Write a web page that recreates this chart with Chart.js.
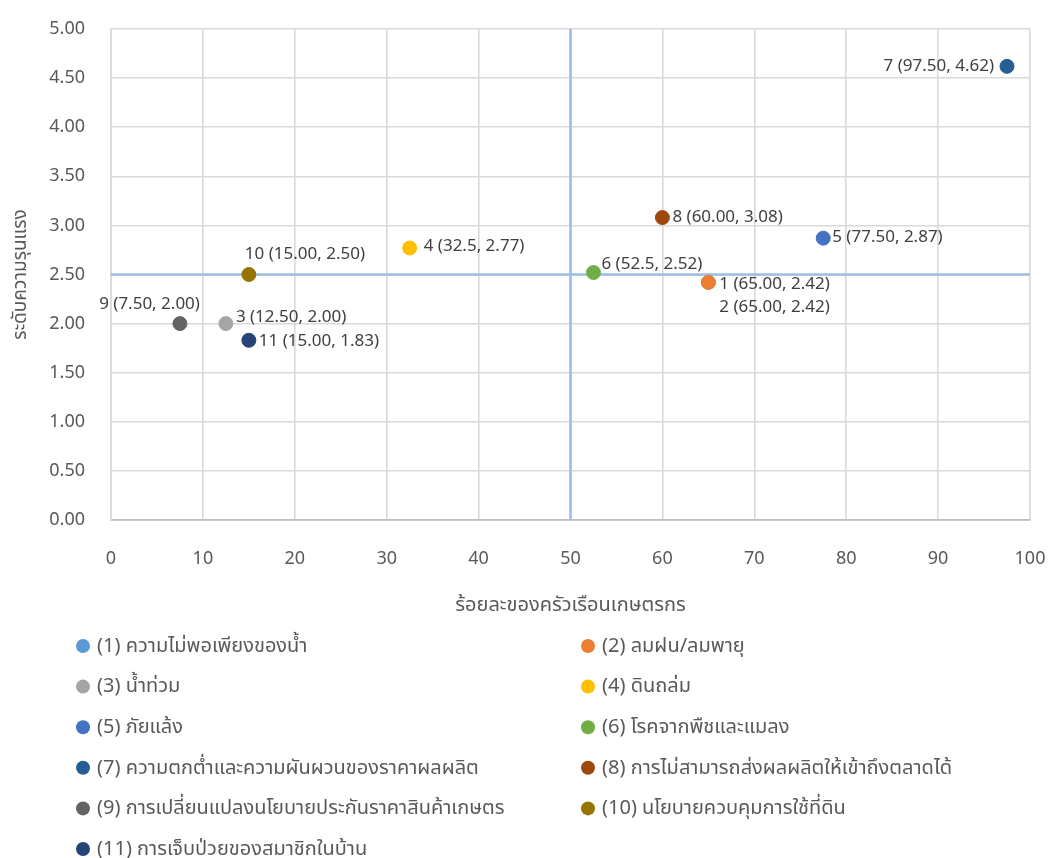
<!DOCTYPE html>
<html lang="th">
<head>
<meta charset="utf-8">
<title>ระดับความรุนแรงและร้อยละของครัวเรือนเกษตรกร</title>
<script src="https://cdn.jsdelivr.net/npm/chart.js@4/dist/chart.umd.min.js"></script>
<style>
  html, body { margin: 0; padding: 0; background: #ffffff; }
  #wrap { width: 1048px; height: 858px; }
</style>
</head>
<body>
<div id="wrap"><canvas id="chart" width="1048" height="858"></canvas></div>
<script>
// Risk factors: share of farm households (x) against severity level (y)
const riskNumbers = [1, 2, 3, 4, 5, 6, 7, 8, 9, 10, 11];
const riskNames = [
  'ความไม่พอเพียงของน้ำ',
  'ลมฝน/ลมพายุ',
  'น้ำท่วม',
  'ดินถล่ม',
  'ภัยแล้ง',
  'โรคจากพืชและแมลง',
  'ความตกต่ำและความผันผวนของราคาผลผลิต',
  'การไม่สามารถส่งผลผลิตให้เข้าถึงตลาดได้',
  'การเปลี่ยนแปลงนโยบายประกันราคาสินค้าเกษตร',
  'นโยบายควบคุมการใช้ที่ดิน',
  'การเจ็บป่วยของสมาชิกในบ้าน'
];
const householdPercent = [65.0, 65.0, 12.5, 32.5, 77.5, 52.5, 97.5, 60.0, 7.5, 15.0, 15.0];
const severityLevel    = [2.42, 2.42, 2.00, 2.77, 2.87, 2.52, 4.62, 3.08, 2.00, 2.50, 1.83];
const percentDecimals  = [2, 2, 2, 1, 2, 1, 2, 2, 2, 2, 2];
const xTickValues = [0, 10, 20, 30, 40, 50, 60, 70, 80, 90, 100];
const yTickValues = [0, 0.5, 1, 1.5, 2, 2.5, 3, 3.5, 4, 4.5, 5];
const xAxisTitle = 'ร้อยละของครัวเรือนเกษตรกร';
const yAxisTitle = 'ระดับความรุนแรง';
const percentDivider = 50;
const severityDivider = 2.5;

const pointColors = ['#5b9bd5', '#ed7d31', '#a5a5a5', '#ffc000', '#4472c4', '#70ad47',
                     '#255e91', '#9e480e', '#636363', '#997300', '#264478'];

// Where each value label sits relative to its marker
const labelPlacement = [
  { align: 'left',  dx: 11, dy: 2 },
  { align: 'left',  dx: 11, dy: 25 },
  { align: 'left',  dx: 10, dy: -6 },
  { align: 'left',  dx: 14, dy: -2 },
  { align: 'left',  dx: 9,  dy: -1 },
  { align: 'left',  dx: 8,  dy: -8 },
  { align: 'right', dx: -13, dy: 0 },
  { align: 'left',  dx: 10, dy: 0 },
  { align: 'right', dx: 20, dy: -19 },
  { align: 'left',  dx: -4, dy: -20 },
  { align: 'left',  dx: 10, dy: 1 }
];

const FONT = "'Noto Sans', 'Noto Sans Thai', sans-serif";

const datasets = riskNumbers.map((n, i) => ({
  label: '(' + n + ') ' + riskNames[i],
  data: [{ x: householdPercent[i], y: severityLevel[i] }],
  backgroundColor: pointColors[i],
  borderColor: pointColors[i],
  pointRadius: 7,
  pointHoverRadius: 7,
  order: riskNumbers.length - i
}));

// Blue divider lines at the mid values
const dividerPlugin = {
  id: 'dividers',
  beforeDatasetsDraw(chart) {
    const { ctx, chartArea, scales } = chart;
    const x = scales.x.getPixelForValue(percentDivider);
    const y = scales.y.getPixelForValue(severityDivider);
    ctx.save();
    ctx.strokeStyle = '#9cbfe3';
    ctx.lineWidth = 2.5;
    ctx.beginPath();
    ctx.moveTo(x, chartArea.top);
    ctx.lineTo(x, chartArea.bottom);
    ctx.moveTo(chartArea.left, y);
    ctx.lineTo(chartArea.right, y);
    ctx.stroke();
    ctx.restore();
  }
};

// "n (x, y)" labels beside each marker
const valueLabelPlugin = {
  id: 'valueLabels',
  afterDatasetsDraw(chart) {
    const { ctx } = chart;
    ctx.save();
    ctx.font = '17px ' + FONT;
    ctx.fillStyle = '#404040';
    ctx.textBaseline = 'middle';
    riskNumbers.forEach((n, i) => {
      const el = chart.getDatasetMeta(i).data[0];
      const p = labelPlacement[i];
      const text = n + ' (' + householdPercent[i].toFixed(percentDecimals[i]) + ', ' +
                   severityLevel[i].toFixed(2) + ')';
      ctx.textAlign = p.align;
      ctx.fillText(text, el.x + p.dx, el.y + p.dy);
    });
    ctx.restore();
  }
};

// Two-column legend under the axis title
const legendPlugin = {
  id: 'twoColumnLegend',
  afterDraw(chart) {
    const { ctx } = chart;
    const colX = [83, 588];
    const rowTop = 646;
    const rowGap = 40.6;
    ctx.save();
    ctx.font = '20px ' + FONT;
    ctx.textBaseline = 'middle';
    ctx.textAlign = 'left';
    chart.data.datasets.forEach((ds, i) => {
      const cx = colX[i % 2];
      const cy = rowTop + Math.floor(i / 2) * rowGap;
      ctx.fillStyle = ds.backgroundColor;
      ctx.beginPath();
      ctx.arc(cx, cy, 7, 0, Math.PI * 2);
      ctx.fill();
      ctx.fillStyle = '#595959';
      ctx.fillText(ds.label, cx + 14, cy);
    });
    ctx.restore();
  }
};

new Chart(document.getElementById('chart'), {
  type: 'scatter',
  data: { datasets },
  options: {
    responsive: false,
    animation: false,
    events: [],
    layout: { padding: { top: 29, right: 18, bottom: 228, left: 0 } },
    plugins: {
      legend: { display: false },
      tooltip: { enabled: false }
    },
    scales: {
      x: {
        type: 'linear',
        min: xTickValues[0],
        max: xTickValues[xTickValues.length - 1],
        afterBuildTicks(scale) { scale.ticks = xTickValues.map(v => ({ value: v })); },
        afterFit(scale) {
          scale.height = 110;
          scale.paddingLeft = 0;
          scale.paddingRight = 0;
        },
        grid: { color: '#d9d9d9', lineWidth: 1.6, drawTicks: false },
        border: { color: '#bfbfbf', width: 1.8 },
        ticks: {
          padding: 28,
          color: '#595959',
          font: { family: FONT, size: 18 },
          callback: v => String(v)
        },
        title: {
          display: true,
          text: xAxisTitle,
          color: '#595959',
          font: { family: FONT, size: 20 },
          padding: { top: 0, bottom: 13 }
        }
      },
      y: {
        type: 'linear',
        min: yTickValues[0],
        max: yTickValues[yTickValues.length - 1],
        afterBuildTicks(scale) { scale.ticks = yTickValues.map(v => ({ value: v })); },
        afterFit(scale) {
          scale.width = 111;
          scale.paddingTop = 0;
          scale.paddingBottom = 0;
        },
        grid: { color: '#d9d9d9', lineWidth: 1.6, drawTicks: false },
        border: { color: '#d9d9d9', width: 1.6 },
        ticks: {
          padding: 26,
          color: '#595959',
          font: { family: FONT, size: 18 },
          callback: v => Number(v).toFixed(2)
        },
        title: {
          display: true,
          text: yAxisTitle,
          color: '#595959',
          font: { family: FONT, size: 19 },
          padding: { top: 9, bottom: 0 }
        }
      }
    }
  },
  plugins: [dividerPlugin, valueLabelPlugin, legendPlugin]
});
</script>
</body>
</html>
